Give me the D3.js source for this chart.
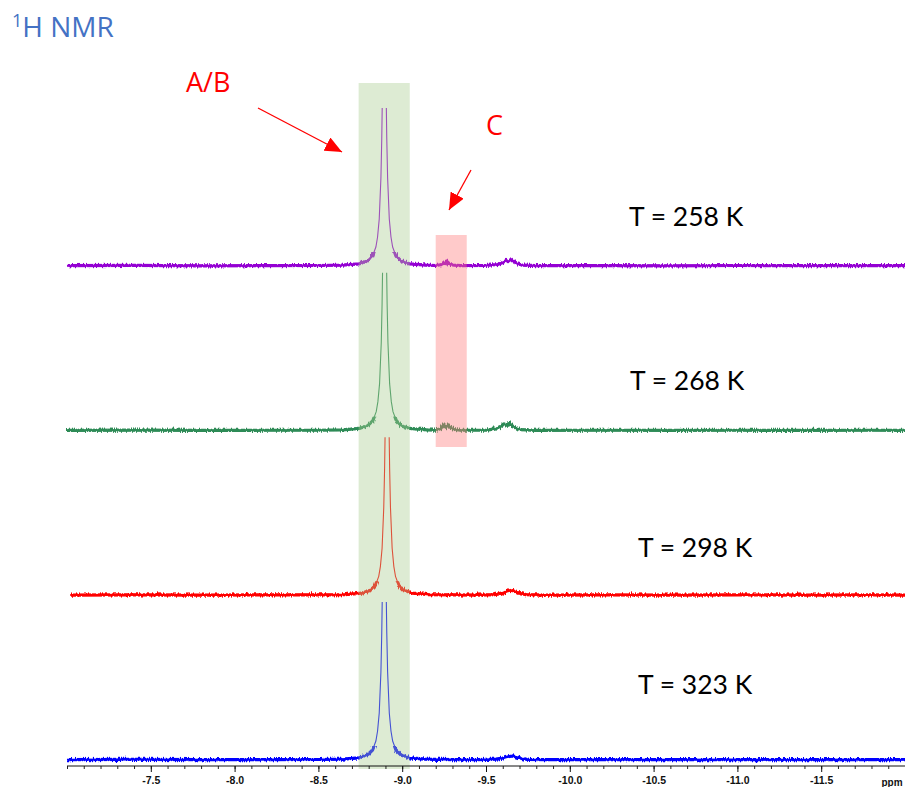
<!DOCTYPE html>
<html>
<head>
<meta charset="utf-8">
<script src="https://cdn.jsdelivr.net/npm/d3@7/dist/d3.min.js"></script>
<style>
  html, body { margin: 0; padding: 0; background: #fff; }
  svg { display: block; }
</style>
</head>
<body>
<svg id="chart" width="905" height="787"></svg>
<script>
// ---------------- DATA ----------------
const temperatures = ["258", "268", "298", "323"];
const traceColors = ["#9400d3", "#2e8b57", "#ff0000", "#0000ff"];
const tickValuesMajor = [-7.5, -8.0, -8.5, -9.0, -9.5, -10.0, -10.5, -11.0, -11.5];
const axisUnit = "ppm";
const ppmRange = [-7.0, -12.0];
const highlightAB = [-8.74, -9.045];
const highlightC = [-9.20, -9.385];

// spectrum at 258 K : [ppm, intensity]
const spec258 = [
  [-7.0,0.3],[-7.4,0.6],[-7.8,0.2],[-8.2,0.4],[-8.5,0.5],[-8.643,0.8],[-8.743,2.2],[-8.793,5],
  [-8.823,10],[-8.843,19],[-8.853,29],[-8.863,47],[-8.873,88],[-8.878,127],[-8.883,185],[-8.888,254],
  [-8.893,290],[-8.898,254],[-8.903,185],[-8.908,127],[-8.913,88],[-8.923,47],[-8.933,29],[-8.943,19],
  [-8.963,10],[-8.993,5],[-9.043,2.2],[-9.143,0.8],[-9.2,0.5],[-9.24,1.5],[-9.255,3.5],[-9.262,2],
  [-9.27,4],[-9.28,2.5],[-9.3,1],[-9.35,0.3],[-9.5,0.5],[-9.57,1.5],[-9.6,3.5],[-9.62,5.5],
  [-9.635,4.5],[-9.65,6],[-9.665,4],[-9.69,2],[-9.72,0.8],[-9.8,0.3],[-10.2,0.4],[-10.6,0.2],
  [-11.0,0.5],[-11.4,0.3],[-11.8,0.4],[-12.0,0.3]
];
// spectrum at 268 K
const spec268 = [
  [-7.0,0.3],[-7.4,0.5],[-7.8,0.3],[-8.2,0.4],[-8.5,0.4],[-8.645,0.8],[-8.745,2.2],[-8.795,5],
  [-8.825,10],[-8.845,19],[-8.855,29],[-8.865,47],[-8.875,88],[-8.88,127],[-8.885,185],[-8.89,254],
  [-8.895,290],[-8.9,254],[-8.905,185],[-8.91,127],[-8.915,88],[-8.925,47],[-8.935,29],[-8.945,19],
  [-8.965,10],[-8.995,5],[-9.045,2.2],[-9.145,0.8],[-9.2,0.6],[-9.23,2],[-9.245,6],[-9.26,3.5],
  [-9.275,6],[-9.29,3],[-9.31,1.2],[-9.35,0.4],[-9.5,0.6],[-9.56,1.8],[-9.59,4],[-9.61,6.5],
  [-9.625,5.5],[-9.64,8],[-9.655,5],[-9.68,2.5],[-9.71,1],[-9.8,0.3],[-10.2,0.4],[-10.6,0.3],
  [-11.0,0.4],[-11.4,0.3],[-11.8,0.4],[-12.0,0.3]
];
// spectrum at 298 K
const spec298 = [
  [-7.02,0.3],[-7.4,0.5],[-7.8,0.3],[-8.2,0.4],[-8.5,0.5],[-8.66,0.8],[-8.76,2.2],[-8.81,5],
  [-8.84,10],[-8.86,19],[-8.87,29],[-8.88,47],[-8.89,88],[-8.895,127],[-8.9,185],[-8.905,254],
  [-8.91,290],[-8.915,254],[-8.92,185],[-8.925,127],[-8.93,88],[-8.94,47],[-8.95,29],[-8.96,19],
  [-8.98,10],[-9.01,5],[-9.06,2.2],[-9.16,0.8],[-9.3,0.5],[-9.45,0.3],[-9.55,0.8],[-9.6,2.5],
  [-9.63,4],[-9.65,5],[-9.67,4],[-9.7,2],[-9.74,0.8],[-9.85,0.3],[-10.2,0.4],[-10.6,0.3],
  [-11.0,0.4],[-11.4,0.3],[-11.8,0.4],[-12.0,0.3]
];
// spectrum at 323 K
const spec323 = [
  [-7.0,0.3],[-7.4,0.6],[-7.8,0.3],[-8.2,0.4],[-8.5,0.5],[-8.643,0.8],[-8.743,2.2],[-8.793,5],
  [-8.823,10],[-8.843,19],[-8.853,29],[-8.863,47],[-8.873,88],[-8.878,127],[-8.883,185],[-8.888,254],
  [-8.893,290],[-8.898,254],[-8.903,185],[-8.908,127],[-8.913,88],[-8.923,47],[-8.933,29],[-8.943,19],
  [-8.963,10],[-8.993,5],[-9.043,2.2],[-9.143,0.8],[-9.3,0.4],[-9.45,0.3],[-9.56,0.8],[-9.61,2.2],
  [-9.64,3.5],[-9.66,4],[-9.68,3],[-9.71,1.5],[-9.75,0.6],[-9.85,0.3],[-10.2,0.4],[-10.6,0.3],
  [-11.0,0.4],[-11.4,0.3],[-11.8,0.4],[-12.0,0.3]
];
const spectra = [spec258, spec268, spec298, spec323];

// ---------------- LAYOUT ----------------
const W = 905, H = 787;
const plotLeft = 67, plotRight = 905, axisY = 766;
const clipHeight = 158;
const labelPos = [[629, 226], [630, 390], [638, 557], [638, 694]];

const svg = d3.select("#chart");

const defs = svg.append("defs");
const filt = defs.append("filter").attr("id", "noise")
  .attr("x", "-2%").attr("y", "-60%").attr("width", "104%").attr("height", "220%");
filt.append("feTurbulence").attr("type", "fractalNoise")
  .attr("baseFrequency", "0.8 0.06").attr("numOctaves", 2).attr("seed", 4).attr("result", "t");
filt.append("feDisplacementMap").attr("in", "SourceGraphic").attr("in2", "t")
  .attr("scale", 5).attr("xChannelSelector", "R").attr("yChannelSelector", "G");

const x = d3.scaleLinear().domain(ppmRange).range([plotLeft, plotRight]);
const yStack = d3.scalePoint().domain(temperatures).range([266, 760]);
const yInt = d3.scaleLinear().domain([0, 100]).range([0, 100]);

// traces
temperatures.forEach((t, i) => {
  const base = yStack(t);
  const line = d3.line()
    .x(d => x(d[0]))
    .y(d => base - yInt(d[1]))
    .curve(d3.curveLinear);

  defs.append("clipPath").attr("id", "clipTop" + i)
    .append("rect").attr("x", 0).attr("width", W)
    .attr("y", base - clipHeight).attr("height", clipHeight + 30);
  defs.append("clipPath").attr("id", "clipBand" + i)
    .append("rect").attr("x", 0).attr("width", W)
    .attr("y", base - 14).attr("height", 22);

  const g = svg.append("g").attr("clip-path", `url(#clipTop${i})`);
  g.append("path").datum(spectra[i])
    .attr("d", line)
    .attr("fill", "none")
    .attr("stroke", traceColors[i])
    .attr("stroke-width", 1.1);

  const gb = svg.append("g").attr("clip-path", `url(#clipBand${i})`);
  gb.append("path").datum(spectra[i])
    .attr("d", line)
    .attr("fill", "none")
    .attr("stroke", traceColors[i])
    .attr("stroke-width", 3.2)
    .attr("filter", "url(#noise)");
  gb.append("path").datum(spectra[i])
    .attr("d", line)
    .attr("fill", "none")
    .attr("stroke", traceColors[i])
    .attr("stroke-width", 2);
});

// highlight overlays (semi-transparent, on top of traces)
svg.append("rect")
  .attr("x", x(highlightAB[0])).attr("width", x(highlightAB[1]) - x(highlightAB[0]))
  .attr("y", 83).attr("height", 769 - 83)
  .attr("fill", "#a9cd92").attr("opacity", 0.4);
svg.append("rect")
  .attr("x", x(highlightC[0])).attr("width", x(highlightC[1]) - x(highlightC[0]))
  .attr("y", 235).attr("height", 447 - 235)
  .attr("fill", "#ff7a7a").attr("opacity", 0.4);

// axis
const axisG = svg.append("g").attr("transform", `translate(0,${axisY})`);
const minorTicks = d3.range(0, 51).map(k => -7.0 - k * 0.1);
axisG.append("g")
  .call(d3.axisBottom(x).tickValues(minorTicks).tickSize(3).tickFormat(""))
  .call(g => g.select(".domain").remove())
  .selectAll("line").attr("stroke", "#222");
const major = axisG.append("g")
  .call(d3.axisBottom(x).tickValues(tickValuesMajor).tickSize(6).tickPadding(5).tickFormat(d => d.toFixed(1)));
major.select(".domain").attr("d", `M${plotLeft},0H${plotRight}`).attr("stroke", "#111");
major.selectAll("line").attr("stroke", "#111");
major.selectAll("text")
  .attr("font-family", "Liberation Sans, Arial, sans-serif")
  .attr("font-weight", "bold").attr("font-size", 10.5).attr("fill", "#111");
axisG.append("text")
  .attr("x", 892).attr("y", 20).attr("text-anchor", "middle")
  .attr("font-family", "Liberation Sans, Arial, sans-serif")
  .attr("font-weight", "bold").attr("font-size", 10).attr("fill", "#111")
  .text(axisUnit);

// temperature labels
temperatures.forEach((t, i) => {
  svg.append("text")
    .attr("x", labelPos[i][0]).attr("y", labelPos[i][1])
    .attr("font-family", "Lato, 'Open Sans', sans-serif")
    .attr("font-size", 26.5).attr("fill", "#000")
    .text(`T = ${t} K`);
});

// title
const title = svg.append("text").attr("x", 12).attr("y", 37)
  .attr("font-family", "'Open Sans', sans-serif").attr("font-size", 28).attr("fill", "#4472c4");
title.append("tspan").attr("font-size", 18).attr("dy", -10).text("1");
title.append("tspan").attr("dy", 10).text("H NMR");

// annotations
defs.append("marker").attr("id", "arrowHead")
  .attr("markerUnits", "userSpaceOnUse")
  .attr("viewBox", "0 0 16 14").attr("refX", 16).attr("refY", 7)
  .attr("markerWidth", 17).attr("markerHeight", 15).attr("orient", "auto")
  .append("path").attr("d", "M0,0L16,7L0,14Z").attr("fill", "#ff0000");

svg.append("line").attr("x1", 258).attr("y1", 108).attr("x2", 342).attr("y2", 152)
  .attr("stroke", "#ff0000").attr("stroke-width", 1.3).attr("marker-end", "url(#arrowHead)");
svg.append("line").attr("x1", 471).attr("y1", 170).attr("x2", 449).attr("y2", 210)
  .attr("stroke", "#ff0000").attr("stroke-width", 1.3).attr("marker-end", "url(#arrowHead)");

svg.append("text").attr("x", 186).attr("y", 92)
  .attr("font-family", "'Open Sans', sans-serif").attr("font-size", 27).attr("fill", "#ff0000")
  .text("A/B");
svg.append("text").attr("x", 486).attr("y", 135)
  .attr("font-family", "'Open Sans', sans-serif").attr("font-size", 27).attr("fill", "#ff0000")
  .text("C");
</script>
</body>
</html>
